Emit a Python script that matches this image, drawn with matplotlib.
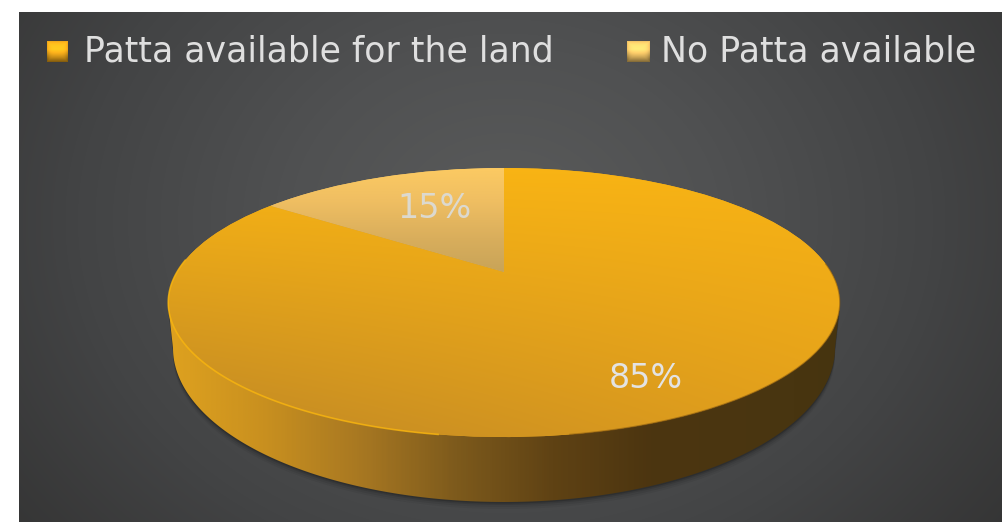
import matplotlib
matplotlib.use('Agg')
import matplotlib.pyplot as plt
import numpy as np
from matplotlib.colors import LinearSegmentedColormap, to_rgb
from matplotlib.patches import Polygon
from matplotlib.transforms import Transform

labels = ['Patta available for the land', 'No Patta available']
values = [85, 15]
colors = ['#f0a91a', '#f3c566']

W, H = 1002, 522


# unit circle -> tilted disc in pixel coords (the apex is not the ellipse centre)
def tilt(x, y):
	w = 1 + 0.2268 * y
	return 504 + 327 * x / w, (272 - 65.9 * y) / w


class TiltTransform(Transform):
	input_dims = 2
	output_dims = 2
	is_separable = False
	has_inverse = False

	def transform_non_affine(self, values):
		px, py = tilt(values[:, 0], values[:, 1])
		return np.column_stack([px, py])


def gradient(stops):
	return LinearSegmentedColormap.from_list('g', stops)


fig = plt.figure(figsize=(W / 100, H / 100), dpi=100, facecolor='white')
ax = fig.add_axes([0, 0, 1, 1])

# dark backdrop
xx, yy = np.meshgrid(np.arange(19, W), np.arange(12, H))
dist = np.hypot((xx - 505) / 640, (yy - 220) / 520)
back = np.clip(dist, 0, 1)
ax.imshow(back, extent=(19, W, H, 12), aspect='auto', zorder=1, vmin=0, vmax=1,
	cmap=gradient(['#5a5b5b', '#505152', '#434445', '#343434']))

wedges, _ = ax.pie(values, colors=colors, startangle=90, counterclock=False)
ax.set_aspect('auto')

# side wall, closed behind the top face
t = np.linspace(np.pi, 2 * np.pi, 200)
wall_x = np.concatenate([[168], 504 + 331 * np.cos(t), [840]])
wall_y = np.concatenate([[303], 348 - 154 * np.sin(t), [303]])
for grow, alpha in [(7, 0.05), (5, 0.07), (3, 0.10), (1.5, 0.16)]:
	ax.add_patch(Polygon(np.column_stack([wall_x, wall_y + grow]), closed=True,
		facecolor='black', edgecolor='none', alpha=alpha, zorder=2))
wall = Polygon(np.column_stack([wall_x, wall_y]), closed=True, facecolor='none', edgecolor='none', zorder=3)
ax.add_patch(wall)
im = ax.imshow(np.linspace(0, 1, 400)[None, :], extent=(165, 845, 510, 290), aspect='auto', zorder=3,
	cmap=gradient(['#dfa21f', '#c9901f', '#a87822', '#7d5a1c', '#5f4214', '#4c3510', '#4a3611', '#46340f']))
im.set_clip_path(wall)

# top face, one image per slice
proj = TiltTransform()
yy, xx = np.mgrid[165:440, 165:845]
v = (yy - 165) / 275.0
u = (xx - 165) / 680.0
top = np.array((249, 180, 20)) + (np.array((190, 135, 38)) - np.array((249, 180, 20))) * v[..., None]
top = top + (u[..., None] * v[..., None]) * np.array([36, 24, -10])
top = np.clip(top, 0, 255) / 255.0

light = np.linspace(0, 1, 120)[:, None]
for w in wedges:
	w.set_transform(proj + ax.transData)
	w.set_zorder(4)
	w.set_edgecolor('none')

im = ax.imshow(top, extent=(165, 845, 440, 165), aspect='auto', zorder=5)
im.set_clip_path(wedges[0])
im = ax.imshow(light, extent=(260, 510, 275, 165), aspect='auto', zorder=5,
	cmap=gradient(['#fdcb62', '#efbe62', '#d9ae5c', '#c7a358']))
im.set_clip_path(wedges[1])

# bright rim on the left, orange on the right
t = np.linspace(np.pi * 0.97, np.pi * 1.45, 120)
px, py = tilt(np.cos(t), np.sin(t))
ax.plot(px, py, color='#f8b50f', lw=1.2, zorder=6, alpha=0.8)
t = np.linspace(np.pi * 1.55, np.pi * 2.02, 120)
px, py = tilt(np.cos(t), np.sin(t))
ax.plot(px, py, color='#8a5c12', lw=0.9, zorder=6, alpha=0.6)

# slice labels
ax.text(646, 379, f'{values[0]}%', color='#e3e3e3', fontsize=24, ha='center', va='center', zorder=7)
ax.text(435, 209, f'{values[1]}%', color='#dcd9cf', fontsize=24, ha='center', va='center', zorder=7)

# legend
px = np.linspace(-1, 1, 24)
gx, gy = np.meshgrid(px, px)
shade = 1.2 - 0.2 * np.maximum(np.abs(gx), np.abs(gy)) ** 4 - 0.45 * np.clip(gy + 0.2, 0, 1)
for label, c, mx, mw, tx in zip(labels, colors, [47, 627], [21, 23], [84, 661]):
	rgb = np.array(to_rgb(c))
	square = np.clip(rgb[None, None, :] * shade[..., None], 0, 1)
	ax.imshow(square, extent=(mx, mx + mw, 62, 41), aspect='auto', zorder=7, interpolation='bilinear')
	ax.text(tx, 52, label, color='#dfdfdf', fontsize=25, ha='left', va='center', zorder=7)

ax.set_xlim(0, W)
ax.set_ylim(H, 0)
ax.axis('off')
fig.savefig('out.png', dpi=100, facecolor='white')
